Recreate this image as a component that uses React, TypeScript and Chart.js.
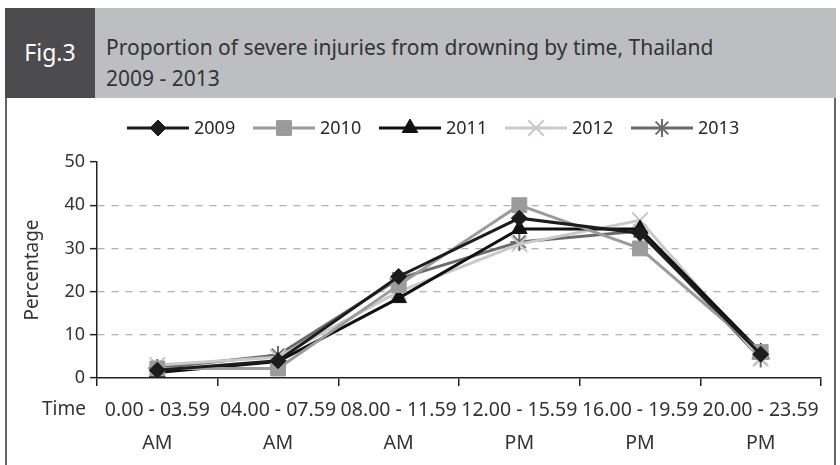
import React, { useEffect, useRef } from 'react';
import { Chart, registerables } from 'chart.js';
import * as helpers from 'chart.js/helpers';
Chart.register(...registerables);

const categories: string[][] = [
  ['0.00 - 03.59', 'AM'],
  ['04.00 - 07.59', 'AM'],
  ['08.00 - 11.59', 'AM'],
  ['12.00 - 15.59', 'PM'],
  ['16.00 - 19.59', 'PM'],
  ['20.00 - 23.59', 'PM'],
];
const years = ['2009', '2010', '2011', '2012', '2013'];
const v2009 = [1.8, 4.0, 23.5, 37.0, 33.5, 5.5];
const v2010 = [2.2, 2.2, 21.5, 40.0, 30.0, 6.0];
const v2011 = [1.3, 3.8, 18.5, 34.5, 34.5, 6.0];
const v2012 = [3.0, 4.8, 20.0, 31.0, 36.5, 4.5];
const v2013 = [2.3, 5.3, 23.0, 31.5, 34.0, 4.5];
const seriesValues = [v2009, v2010, v2011, v2012, v2013];
const yMin = 0;
const yMax = 50;
const yStep = 10;
const titleLine1 = 'Proportion of severe injuries from drowning by time, Thailand';
const titleLine2 = '2009 - 2013';
const figLabel = 'Fig.3';
const xAxisLabel = 'Time';
const yAxisLabel = 'Percentage';

const FONT = "'Noto Sans', 'DejaVu Sans', sans-serif";

const seriesStyles = [
  { color: '#1c1c1c', fill: '#1c1c1c', pointStyle: 'rectRot', radius: 8, pbw: 1 },
  { color: '#9b9b9b', fill: '#9b9b9b', pointStyle: 'rect', radius: 10.5, pbw: 1 },
  { color: '#111111', fill: '#111111', pointStyle: 'triangle', radius: 9, pbw: 1 },
  { color: '#c9c9c9', fill: '#c9c9c9', pointStyle: 'crossRot', radius: 11, pbw: 2 },
  { color: '#6b6b6b', fill: '#6b6b6b', pointStyle: 'star', radius: 9, pbw: 2 },
];

const legendPlugin = {
  id: 'customLegend',
  afterDraw(chart: any) {
    const ctx = chart.ctx;
    const y = 30;
    chart.data.datasets.forEach((ds: any, i: number) => {
      const x = 120 + i * 126;
      ctx.save();
      ctx.strokeStyle = ds.borderColor;
      ctx.lineWidth = 3;
      ctx.beginPath();
      ctx.moveTo(x, y);
      ctx.lineTo(x + 62, y);
      ctx.stroke();
      ctx.fillStyle = ds.pointBackgroundColor;
      ctx.strokeStyle = ds.pointBorderColor;
      ctx.lineWidth = ds.pointBorderWidth;
      helpers.drawPoint(ctx, { pointStyle: ds.pointStyle, radius: ds.pointRadius, borderWidth: ds.pointBorderWidth, rotation: 0 } as any, x + 31, y);
      ctx.fillStyle = '#2a2a2a';
      ctx.font = `18px ${FONT}`;
      ctx.textBaseline = 'middle';
      ctx.textAlign = 'left';
      ctx.fillText(ds.label, x + 67, y + 1);
      ctx.restore();
    });
    const xs = chart.scales.x;
    ctx.save();
    ctx.fillStyle = '#333';
    ctx.font = `19px ${FONT}`;
    ctx.textBaseline = 'middle';
    ctx.textAlign = 'right';
    ctx.fillText(xAxisLabel, xs.left - 11, xs.top + 32);
    ctx.restore();
  },
};

function ChartBox() {
  const ref = useRef<HTMLCanvasElement>(null);
  useEffect(() => {
    if (!ref.current) return;
    const chart = new Chart(ref.current, {
      type: 'line',
      data: {
        labels: categories,
        datasets: years.map((y, i) => ({
          label: y,
          data: seriesValues[i],
          borderColor: seriesStyles[i].color,
          backgroundColor: seriesStyles[i].fill,
          borderWidth: 3,
          tension: 0,
          pointStyle: seriesStyles[i].pointStyle as any,
          pointRadius: seriesStyles[i].radius,
          pointBackgroundColor: seriesStyles[i].fill,
          pointBorderColor: seriesStyles[i].color,
          pointBorderWidth: seriesStyles[i].pbw,
        })),
      },
      options: {
        animation: false,
        responsive: false,
        layout: { padding: { top: 64, right: 11, left: 0, bottom: 0 } },
        plugins: { legend: { display: false }, tooltip: { enabled: false } },
        scales: {
          x: {
            type: 'category',
            offset: true,
            afterFit: (s: any) => { s.height = 87; },
            grid: {
              offset: true,
              drawOnChartArea: false,
              drawTicks: true,
              tickLength: 8,
              tickColor: '#222',
              lineWidth: 1.5,
            },
            border: { display: true, color: '#222', width: 1.5 },
            ticks: {
              autoSkip: false,
              maxRotation: 0,
              minRotation: 0,
              padding: 8,
              color: '#333',
              font: { family: FONT, size: 19.5, lineHeight: 1.69 },
            },
          },
          y: {
            min: yMin,
            max: yMax,
            afterFit: (s: any) => { s.width = 90; },
            grid: {
              color: (c: any) => (c.tick && (c.tick.value === yMin || c.tick.value === yMax) ? 'rgba(0,0,0,0)' : '#b3b3b3'),
              lineWidth: 1.3,
              tickColor: '#222',
              tickWidth: 1.5,
              tickLength: 7,
              drawTicks: true,
            },
            border: { display: true, color: '#222', width: 1.5, dash: [7, 7] },
            ticks: {
              stepSize: yStep,
              padding: 5,
              color: '#333',
              font: { family: FONT, size: 18 },
            },
            title: {
              display: true,
              text: yAxisLabel,
              color: '#333',
              font: { family: FONT, size: 19 },
              padding: { top: 14, bottom: 0 },
            },
          },
        },
      },
      plugins: [legendPlugin],
    } as any);
    return () => chart.destroy();
  }, []);
  return <canvas ref={ref} width={827} height={367} style={{ display: 'block' }} />;
}

export default function App() {
  return (
    <div style={{ position: 'absolute', left: 0, top: 0, width: 840, height: 465, background: '#fff', overflow: 'hidden', fontFamily: FONT }}>
      <div style={{ position: 'absolute', left: 5, top: 8, width: 831, height: 90, background: '#bdbec1' }}>
        <div style={{ position: 'absolute', left: 0, top: 0, width: 90, height: 90, background: '#4c4c4e', color: '#fff', fontSize: 23, display: 'flex', alignItems: 'center', justifyContent: 'center', paddingBottom: 2, boxSizing: 'border-box' }}>
          {figLabel}
        </div>
        <div style={{ position: 'absolute', left: 101, top: 24, color: '#333', fontSize: 21, lineHeight: '31px', whiteSpace: 'nowrap' }}>
          <div>{titleLine1}</div>
          <div>{titleLine2}</div>
        </div>
      </div>
      <div style={{ position: 'absolute', left: 5, top: 98, width: 827, height: 367, borderLeft: '2px solid #666', borderRight: '2px solid #666' }}>
        <ChartBox />
      </div>
    </div>
  );
}
